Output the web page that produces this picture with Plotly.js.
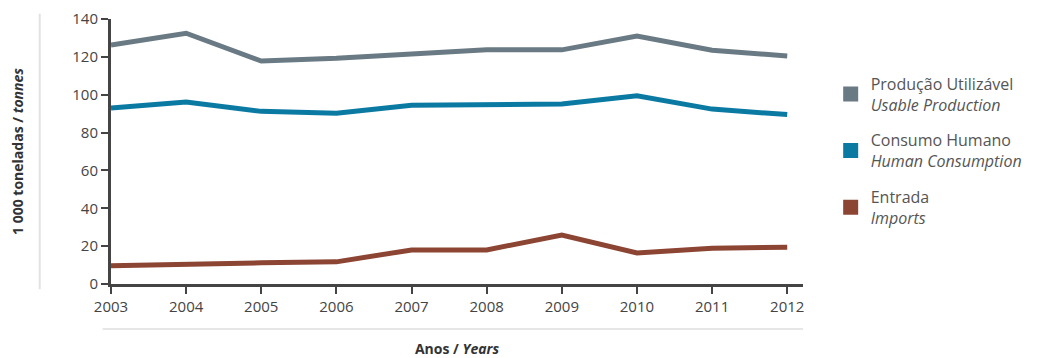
<!DOCTYPE html>
<html><head><meta charset="utf-8">
<script src="https://cdn.plot.ly/plotly-3.0.1.min.js"></script>
<style>html,body{margin:0;padding:0;background:#fff}#chart{width:1062px;height:358px}</style>
</head><body><div id="chart"></div>
<script>
const years = [2003,2004,2005,2006,2007,2008,2009,2010,2011,2012];
const usableProduction = [126.3,132.5,117.8,119.2,121.5,123.7,123.7,131.0,123.5,120.5];
const humanConsumption = [93.0,96.2,91.2,90.2,94.4,94.7,95.1,99.4,92.4,89.5];
const imports = [9.6,10.6,11.2,11.7,18.0,18.0,25.9,16.4,18.9,19.4];
const seriesNames = [
  'Produção Utilizável<br><i>Usable Production</i>',
  'Consumo Humano<br><i>Human Consumption</i>',
  'Entrada<br><i>Imports</i>'
];
const colors = ['#6a7a84','#0b7aa3','#8c4433'];
const seriesData = [usableProduction, humanConsumption, imports];

const font = '"Open Sans", Lato, "DejaVu Sans", sans-serif';
const traces = [];
seriesData.forEach((d,i)=>{
  traces.push({x:years,y:d,type:'scatter',mode:'lines',line:{color:colors[i],width:5},showlegend:false,hoverinfo:'x+y'});
});
seriesData.forEach((d,i)=>{
  traces.push({x:[null],y:[null],type:'scatter',mode:'markers',name:seriesNames[i],legendgroup:'g'+i,
    marker:{symbol:'square',size:15,color:colors[i]}});
});

const layout = {
  width:1062,height:358,
  margin:{l:111,r:259,t:19,b:74},
  paper_bgcolor:'#fff',plot_bgcolor:'#fff',
  font:{family:font,color:'#444',size:14},
  showlegend:true,
  legend:{x:1.04,y:0.82,xanchor:'left',yanchor:'top',font:{size:16,color:'#555',family:font},
    tracegroupgap:12,itemwidth:30,bgcolor:'rgba(0,0,0,0)',traceorder:'grouped'},
  xaxis:{range:[2003,2012.21],tickvals:years,ticktext:years.map(String),showgrid:false,zeroline:false,
    showline:true,linecolor:'#444',linewidth:3,ticks:'outside',ticklen:7,tickwidth:2,tickcolor:'#444',
    tickfont:{size:15,color:'#444'},
    title:{text:'<b>Anos / <i>Years</i></b>',font:{size:14,color:'#333'},standoff:34}},
  yaxis:{range:[0,140],tickvals:[0,20,40,60,80,100,120,140],showgrid:false,zeroline:false,
    showline:true,linecolor:'#444',linewidth:3,ticks:'outside',ticklen:7,tickwidth:2,tickcolor:'#444',
    tickfont:{size:15,color:'#444'},
    title:{text:'<b>1 000 toneladas / <i>tonnes</i></b>',font:{size:14,color:'#333'},standoff:46}},
  shapes:[
    {type:'line',xref:'paper',yref:'paper',x0:-0.103,x1:-0.103,y0:1.02,y1:-0.02,line:{color:'#e2e2e2',width:2}},
    {type:'line',xref:'paper',yref:'paper',x0:-0.012,x1:1.0,y0:-0.17,y1:-0.17,line:{color:'#e6e6e6',width:2}}
  ]
};
Plotly.newPlot('chart',traces,layout,{displayModeBar:false,staticPlot:true});
</script></body></html>
